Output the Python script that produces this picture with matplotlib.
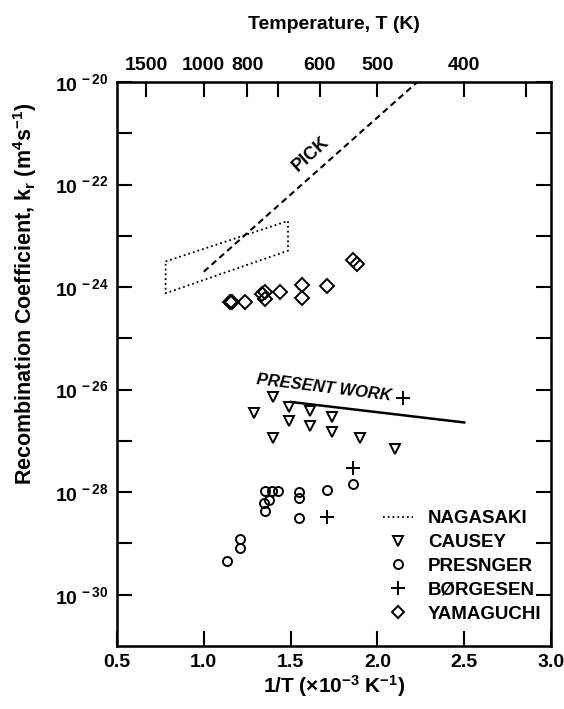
import matplotlib
matplotlib.use('Agg')
import matplotlib.pyplot as plt
from matplotlib.lines import Line2D
from matplotlib.ticker import NullLocator, FixedLocator
import numpy as np

################## Data (log10 of k_r) ##################
causey_x = [1.40, 1.29, 1.49, 1.61, 1.74, 1.49, 1.61, 1.74, 1.40, 1.90, 2.10]
causey_e = [-26.15, -26.45, -26.33, -26.42, -26.53, -26.61, -26.71, -26.82, -26.94, -26.94, -27.16]

presnger_x = [1.35, 1.39, 1.43, 1.375, 1.345, 1.35, 1.55, 1.55, 1.55, 1.71, 1.86, 1.21, 1.21, 1.135]
presnger_e = [-27.97, -27.97, -27.97, -28.15, -28.22, -28.37, -27.99, -28.12, -28.50, -27.96, -27.85, -28.92, -29.09, -29.34]

borgesen_x = [1.86, 1.71, 2.15]
borgesen_e = [-27.52, -28.49, -26.16]

yamaguchi_x = [1.15, 1.165, 1.24, 1.335, 1.35, 1.355, 1.44, 1.565, 1.565, 1.71, 1.86, 1.88]
yamaguchi_e = [-24.29, -24.29, -24.30, -24.14, -24.24, -24.10, -24.10, -23.96, -24.21, -23.98, -23.47, -23.54]

nagasaki_x = [0.78, 1.485, 1.485, 0.78, 0.78]
nagasaki_e = [-23.50, -22.71, -23.29, -24.12, -23.50]

pick_x = [1.0, 2.23]
pick_e = [-23.70, -20.0]

present_x = [1.5, 2.5]
present_e = [-26.24, -26.64]

temps = [1500, 1000, 800, 700, 600, 500, 400, 350]
temp_labels = ['1500', '1000', '800', '', '600', '500', '400', '']

################## Style ##################
plt.rcParams['font.family'] = ['Liberation Sans', 'DejaVu Sans']
plt.rcParams['font.weight'] = 'bold'
plt.rcParams['axes.labelweight'] = 'bold'
plt.rcParams['mathtext.fontset'] = 'custom'
plt.rcParams['mathtext.rm'] = 'Liberation Sans:bold'
plt.rcParams['mathtext.bf'] = 'Liberation Sans:bold'
plt.rcParams['mathtext.it'] = 'Liberation Sans:bold'
plt.rcParams['mathtext.default'] = 'bf'

fig = plt.figure(figsize=(5.64, 7.09), dpi=100)
ax = fig.add_axes([117/564, 1-646/709, 434/564, 564/709])

p = lambda e: 10.0**np.array(e)

ax.plot(nagasaki_x, p(nagasaki_e), ':', color='black', lw=1.3)
ax.plot(pick_x, p(pick_e), '--', color='black', lw=1.5, dashes=(3, 2))
ax.plot(present_x, p(present_e), '-', color='black', lw=1.8)

mk = dict(linestyle='none', color='black', markerfacecolor='none', markeredgewidth=1.4)
ax.plot(causey_x, p(causey_e), marker='v', markersize=7, **mk)
ax.plot(presnger_x, p(presnger_e), marker='o', markersize=6.5, **mk)
ax.plot(borgesen_x, p(borgesen_e), marker='+', markersize=10, **mk)
ax.plot(yamaguchi_x, p(yamaguchi_e), marker='D', markersize=7, **mk)

ax.text(1.615, 10**-21.40, 'PICK', rotation=42, ha='center', va='center',
        fontsize=13, fontweight='bold')
ax.text(1.69, 10**-25.97, 'PRESENT WORK', rotation=-7, ha='center', va='center',
        fontsize=12, style='italic', fontweight='bold')

ax.set_yscale('log')
ax.set_xlim(0.5, 3.0)
ax.set_ylim(1e-31, 1e-20)
ax.set_xticks([0.5, 1.0, 1.5, 2.0, 2.5, 3.0])
ax.set_xticklabels(['0.5', '1.0', '1.5', '2.0', '2.5', '3.0'])
ax.yaxis.set_major_locator(FixedLocator(10.0**np.arange(-30, -19)))
ax.yaxis.set_minor_locator(NullLocator())
ylabs = [r'$10^{\,%d}$' % d if d % 2 == 0 else '' for d in range(-30, -19)]
ax.set_yticklabels(ylabs)
ax.tick_params(axis='both', direction='in', length=11, width=1.5, labelsize=14, pad=6,
               right=True)
ax.tick_params(axis='x', pad=6, labelsize=14)
for s in ax.spines.values():
    s.set_linewidth(1.8)

ax.set_xlabel(r'1/T ($\times$10$^{-3}$ K$^{-1}$)', fontsize=15, labelpad=1)
ax.set_ylabel(r'Recombination Coefficient, k$_r$ (m$^4$s$^{-1}$)', fontsize=15.5)
ax.yaxis.set_label_coords(-0.18, 0.625)

ax2 = ax.twiny()
ax2.set_xlim(ax.get_xlim())
ax2.set_xticks([1000.0/t for t in temps])
ax2.set_xticklabels(temp_labels)
ax2.tick_params(axis='x', direction='in', length=11, width=1.5, labelsize=14, pad=6)
ax2.set_xlabel('Temperature, T (K)', fontsize=14, labelpad=20)

handles = [
    Line2D([], [], linestyle=':', color='black', lw=1.3),
    Line2D([], [], marker='v', markersize=7, **mk),
    Line2D([], [], marker='o', markersize=6.5, **mk),
    Line2D([], [], marker='+', markersize=10, **mk),
    Line2D([], [], marker='D', markersize=6, **mk),
]
names = ['NAGASAKI', 'CAUSEY', 'PRESNGER', 'BØRGESEN', 'YAMAGUCHI']
ax.legend(handles, names, loc='lower left', bbox_to_anchor=(0.596, 0.028), frameon=False,
          prop={'weight': 'bold', 'size': 13.5}, handlelength=1.6, handletextpad=0.8,
          labelspacing=0.36, borderaxespad=0.0)

fig.savefig('out.png', dpi=100)
